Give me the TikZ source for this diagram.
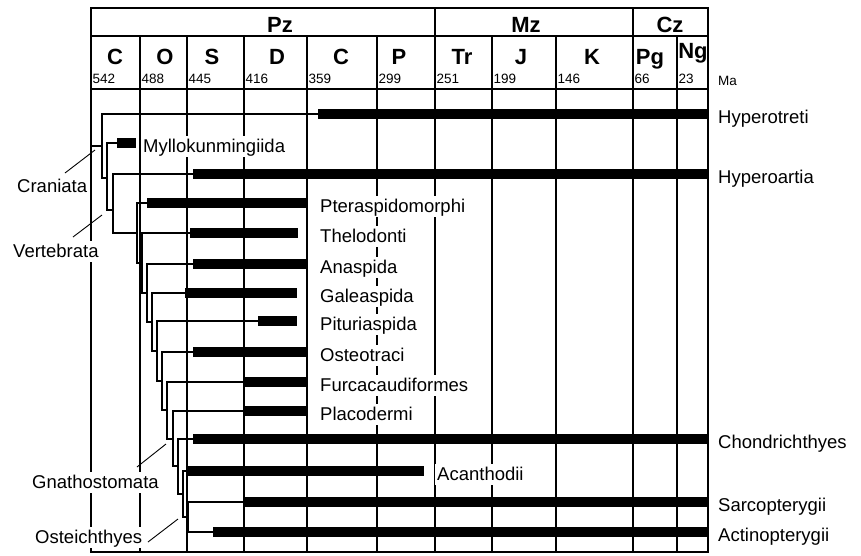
\documentclass[tikz,border=0pt]{standalone}
\usepackage{fontspec}
\setmainfont{Liberation Sans}
\begin{document}
\begin{tikzpicture}[x=1pt,y=-1pt,
  gridline/.style={line width=1.9pt},
  branch/.style={line width=1.9pt, line join=miter},
  rangebar/.style={line width=10pt},
  leader/.style={line width=0.9pt},
  taxon/.style={anchor=base west, fill=white, inner xsep=2pt, inner ysep=0pt,
     text height=16pt, text depth=5pt, font=\fontsize{18.5}{20}\selectfont},
  era/.style={anchor=base, inner sep=0pt, font=\bfseries\fontsize{22}{24}\selectfont},
  age/.style={anchor=base west, inner sep=0pt, font=\fontsize{13.5}{14}\selectfont}
]
\useasboundingbox (0,0) rectangle (861,555);
% ---- chart grid ----
\draw[gridline] (91,8) rectangle (708,552);
\foreach \x in {140,187,244,307,377,492,556,677} \draw[gridline] (\x,36) -- (\x,552);
\foreach \x in {435,633} \draw[gridline] (\x,8) -- (\x,552);
\foreach \y in {36,89} \draw[gridline] (91,\y) -- (708,\y);
% ---- header ----
\node[era] (pz) at (280,32) {Pz};
\node[era] (mz) at (526,32) {Mz};
\node[era] (cz) at (670,32) {Cz};
\node[era] (pC) at (115,64) {C};
\node[era] (pO) at (165,64) {O};
\node[era] (pS) at (212,64) {S};
\node[era] (pD) at (277,64) {D};
\node[era] (pC2) at (341,64) {C};
\node[era] (pP) at (399,64) {P};
\node[era] (pTr) at (462,64) {Tr};
\node[era] (pJ) at (521,64) {J};
\node[era] (pK) at (592,64) {K};
\node[era] (pPg) at (650,64) {Pg};
\node[era] (pNg) at (693,58) {Ng};
\foreach \x/\a in {91/542,140/488,187/445,244/416,307/359,377/299,435/251,492/199,556/146,633/66,677/23}
  \node[age] (a\a) at (\x+1.5,83) {\a};
\node[age] (ma) at (718,85) {Ma};
% ---- tree ----
\coordinate (root) at (91,146);
\coordinate (n2) at (102,146);
\draw[branch] (root) -- (n2);
\foreach \k/\x/\r/\b/\s/\e/\nx in {
   2/102/114/178/318/708/107,
   3/107/143/210/117/136/113,
   4/113/174/233/193/708/137,
   5/137/203/263/147/307/142,
   6/142/233/293/190/298/147,
   7/147/264/322/193/307/152,
   8/152/293/351/185/297/157,
   9/157/321/381/258/297/162,
   10/162/352/410/193/307/167,
   11/167/382/439/244/307/173,
   12/173/411/466/244/307/178,
   13/178/439/494/193/708/183,
   14/183/471/517/187/424/188,
   15/188/502/532/244/708/213}{
  \coordinate (top\k) at (\x,\r);
  \coordinate (bot\k) at (\x,\b);
  \coordinate (bs\k) at (\s,\r);
  \coordinate (be\k) at (\e,\r);
  \coordinate (nx\k) at (\nx,\b);
  \draw[branch] (bs\k) -- (top\k) -- (bot\k) -- (nx\k);
  \draw[rangebar] (bs\k) -- (be\k);
}
\coordinate (bs16) at (213,532);
\coordinate (be16) at (708,532);
\draw[rangebar] (bs16) -- (be16);
% ---- taxon labels ----
\node[taxon] (Hyperotreti) at (716,123) {Hyperotreti};
\node[taxon] (Myllo) at (141,152) {Myllokunmingiida};
\node[taxon] (Hyperoartia) at (716,183) {Hyperoartia};
\node[taxon] (Ptera) at (318,212) {Pteraspidomorphi};
\node[taxon] (Thelo) at (318,242) {Thelodonti};
\node[taxon] (Anaspida) at (318,273) {Anaspida};
\node[taxon] (Galea) at (318,302) {Galeaspida};
\node[taxon] (Pituri) at (318,330) {Pituriaspida};
\node[taxon] (Osteo) at (318,361) {Osteotraci};
\node[taxon] (Furca) at (318,391) {Furcacaudiformes};
\node[taxon] (Placo) at (318,420) {Placodermi};
\node[taxon] (Chondr) at (716,448) {Chondrichthyes};
\node[taxon] (Acanth) at (435,480) {Acanthodii};
\node[taxon] (Sarco) at (716,511) {Sarcopterygii};
\node[taxon] (Actino) at (716,541) {Actinopterygii};
% ---- clade labels ----
\node[taxon] (Craniata) at (15,192) {Craniata};
\node[taxon] (Vertebrata) at (11,257) {Vertebrata};
\node[taxon] (Gnatho) at (30,488) {Gnathostomata};
\node[taxon] (Osteich) at (33,543) {Osteichthyes};
\coordinate (cranP) at (95,150);
\coordinate (vertP) at (102,215);
\coordinate (gnatP) at (166,444);
\coordinate (ostP) at (178,519);
\draw[leader] (65,173) -- (cranP);
\draw[leader] (73,237) -- (vertP);
\draw[leader] (137,467) -- (gnatP);
\draw[leader] (148,542) -- (ostP);
\end{tikzpicture}
\end{document}
